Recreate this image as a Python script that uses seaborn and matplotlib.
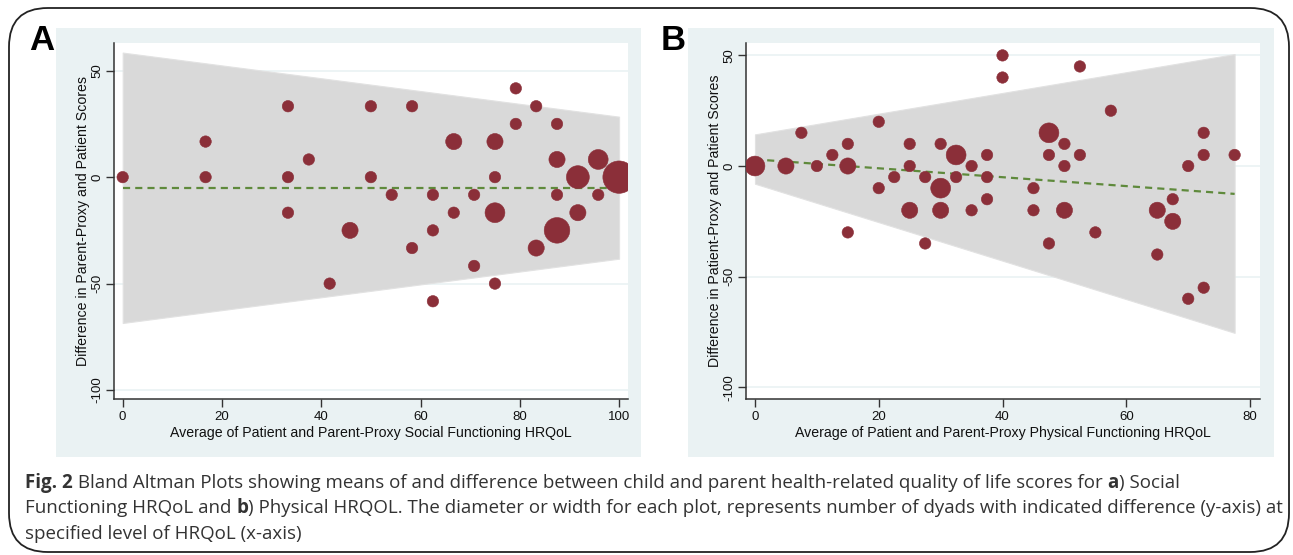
import matplotlib
matplotlib.use('Agg')
import matplotlib.pyplot as plt
import seaborn as sns
import pandas as pd
from matplotlib.patches import Rectangle, FancyBboxPatch

# panel A: social functioning (mean, difference, number of dyads)
a_x = [0, 16.7, 16.7, 33.3, 33.3, 33.3, 37.5, 41.7, 45.8, 50, 50, 54.2, 58.3, 58.3, 62.5, 62.5, 62.5, 66.7, 66.7,
       70.8, 70.8, 75, 75, 75, 75, 79.2, 79.2, 83.3, 83.3, 87.5, 87.5, 87.5, 87.5, 91.7, 91.7, 95.8, 95.8, 100]
a_y = [0, 0, 16.7, 33.3, 0, -16.7, 8.3, -50, -25, 33.3, 0, -8.3, 33.3, -33.3, -8.3, -25, -58.3, 16.7, -16.7,
       -8.3, -41.7, 16.7, 0, -16.7, -50, 41.7, 25, 33.3, -33.3, 25, 8.3, -8.3, -25, 0, -16.7, 8.3, -8.3, 0]
a_n = [1, 1, 1, 1, 1, 1, 1, 1, 2, 1, 1, 1, 1, 1, 1, 1, 1, 2, 1,
       1, 1, 2, 1, 3, 1, 1, 1, 1, 2, 1, 2, 1, 5, 4, 2, 3, 1, 8]
a_band_x = [0, 100]
a_band_hi = [58.5, 28.4]
a_band_lo = [-68.5, -38.3]
a_fit = [-5.0, -5.0]

# panel B: physical functioning
b_x = [0, 5, 7.5, 10, 12.5, 15, 15, 15, 20, 20, 22.5, 25, 25, 25, 27.5, 27.5, 30, 30, 30, 32.5, 32.5, 35, 35,
       37.5, 37.5, 37.5, 40, 40, 45, 45, 47.5, 47.5, 47.5, 50, 50, 50, 52.5, 52.5, 55, 57.5, 65, 65, 67.5, 67.5,
       70, 70, 72.5, 72.5, 72.5, 77.5]
b_y = [0, 0, 15, 0, 5, 10, 0, -30, 20, -10, -5, 10, 0, -20, -5, -35, 10, -10, -20, 5, -5, 0, -20,
       5, -5, -15, 50, 40, -10, -20, 15, 5, -35, 10, 0, -20, 45, 5, -30, 25, -20, -40, -15, -25,
       0, -60, 15, 5, -55, 5]
b_n = [3, 2, 1, 1, 1, 1, 2, 1, 1, 1, 1, 1, 1, 2, 1, 1, 1, 3, 2, 3, 1, 1, 1,
       1, 1, 1, 1, 1, 1, 1, 3, 1, 1, 1, 1, 2, 1, 1, 1, 1, 2, 1, 1, 2,
       1, 1, 1, 1, 1, 1]
b_band_x = [0, 77.5]
b_band_hi = [14.3, 50.6]
b_band_lo = [-8.0, -75.4]
b_fit = [3.0, -12.6]

a_xticks = [0, 20, 40, 60, 80, 100]
b_xticks = [0, 20, 40, 60, 80]
yticks = [50, 0, -50, -100]

sns.set_style('white')
plt.rcParams['font.family'] = ['Liberation Sans', 'DejaVu Sans']

W, H = 1293, 555
fig = plt.figure(figsize=(W / 100, H / 100), dpi=100)

def fbox(x0, y0, x1, y1):
    # pixel box (top-left origin) -> figure fraction rect
    return [x0 / W, 1 - y1 / H, (x1 - x0) / W, (y1 - y0) / H]

# outer rounded frame
fig.patches.append(FancyBboxPatch((9 / W, 1 - 552 / H), 1280 / W, 544 / H,
                                  boxstyle='round,pad=0,rounding_size=0.03', transform=fig.transFigure,
                                  facecolor='none', edgecolor='#222222', linewidth=1.3,
                                  mutation_aspect=W / H, zorder=-2))

BG = '#eaf2f3'
RED = '#8b2f39'
GREEN = '#5f8a3c'
LBL = 10.2
TICK = 9.5

def panel(bg, axbox, xs, ys, ns, bx, bhi, blo, fit, xticks, xlim, ylim, xlabel, ylabel, letter, letter_x, ylab_x):
    r = fbox(*bg)
    fig.patches.append(Rectangle((r[0], r[1]), r[2], r[3], transform=fig.transFigure,
                                 facecolor=BG, edgecolor='none', zorder=-1))
    ax = fig.add_axes(fbox(*axbox), zorder=1)
    ax.set_facecolor('white')
    for yt in yticks:
        ax.axhline(yt, color=BG, lw=1.2, zorder=0)
    ax.fill_between(bx, blo, bhi, color='#d9d9d9', edgecolor='#e2e2e2', lw=0.8, zorder=1)
    df = pd.DataFrame({'x': xs, 'y': ys, 'n': ns})
    sns.scatterplot(data=df, x='x', y='y', size='n', sizes={k: 68 * k for k in set(ns)},
                    color=RED, edgecolor=RED, linewidth=0.4, legend=False, ax=ax, zorder=3)
    sns.lineplot(x=bx, y=fit, color=GREEN, lw=1.6, ax=ax, zorder=2)
    ax.lines[-1].set_dashes((3.2, 2.3))
    ax.set_xlim(*xlim)
    ax.set_ylim(*ylim)
    ax.set_xticks(xticks)
    ax.set_yticks(yticks)
    ax.set_yticklabels([str(t) for t in yticks], rotation=90, va='center')
    for s in ['top', 'right']:
        ax.spines[s].set_visible(False)
    for s in ['left', 'bottom']:
        ax.spines[s].set_color('#333333')
        ax.spines[s].set_linewidth(1.1)
    ax.tick_params(axis='both', direction='out', length=6, width=1, color='#333333',
                   labelsize=TICK, labelcolor='#111111', bottom=True, left=True)
    ax.tick_params(axis='x', pad=2.5)
    ax.tick_params(axis='y', pad=1.5)
    ax.set_xlabel('')
    ax.set_ylabel('')
    fig.text(((axbox[0] + axbox[2]) / 2) / W, 1 - 433 / H, xlabel, ha='center', va='center',
             fontsize=LBL, color='#111111')
    fig.text(ylab_x / W, 1 - ((axbox[1] + axbox[3]) / 2) / H, ylabel, ha='center', va='center',
             rotation=90, fontsize=LBL, color='#111111')
    fig.text(letter_x / W, 1 - 40 / H, letter, ha='center', va='center', fontsize=25,
             fontweight='bold', color='black')
    return ax

panel((56, 28, 641, 457), (114, 43, 628, 399), a_x, a_y, a_n, a_band_x, a_band_hi, a_band_lo, a_fit,
      a_xticks, (-1.75, 101.8), (-104.2, 63.0),
      'Average of Patient and Parent-Proxy Social Functioning HRQoL',
      'Difference in Parent-Proxy and Patient Scores', 'A', 42, 83)
panel((688, 28, 1274, 457), (746, 43, 1260, 399), b_x, b_y, b_n, b_band_x, b_band_hi, b_band_lo, b_fit,
      b_xticks, (-1.45, 81.6), (-105.3, 55.6),
      'Average of Patient and Parent-Proxy Physical Functioning HRQoL',
      'Difference in Patient-Proxy and Patient Scores', 'B', 673, 715)

# caption, written as runs so the bold parts line up
cap_font = ['Open Sans', 'DejaVu Sans']
cap_lines = [
    [('Fig. 2', True), (' Bland Altman Plots showing means of and difference between child and parent '
                        'health-related quality of life scores for ', False), ('a', True), (') Social', False)],
    [('Functioning HRQoL and ', False), ('b', True), (') Physical HRQOL. The diameter or width for each plot, '
                                                      'represents number of dyads with indicated difference '
                                                      '(y-axis) at', False)],
    [('specified level of HRQoL (x-axis)', False)],
]
cap_right = [1203, 1283, 300]
cap_y = [483, 508, 534]
renderer = fig.canvas.get_renderer()

def draw_line(runs, y, size):
    x = 25
    made = []
    for txt, bold in runs:
        t = fig.text(x / W, 1 - y / H, txt, ha='left', va='center', fontsize=size, family=cap_font,
                     fontweight='bold' if bold else 'normal', color='#333333')
        made.append(t)
        x = t.get_window_extent(renderer).x1
    return x, made

# pick a size so the first two lines fit their widths in the reference
size = 20
for runs, right in zip(cap_lines[:2], cap_right[:2]):
    end, made = draw_line(runs, -100, 10)
    for t in made:
        t.remove()
    size = min(size, 10 * (right - 25) / (end - 25))
for runs, y in zip(cap_lines, cap_y):
    draw_line(runs, y, size)

fig.savefig('out.png', dpi=100)
